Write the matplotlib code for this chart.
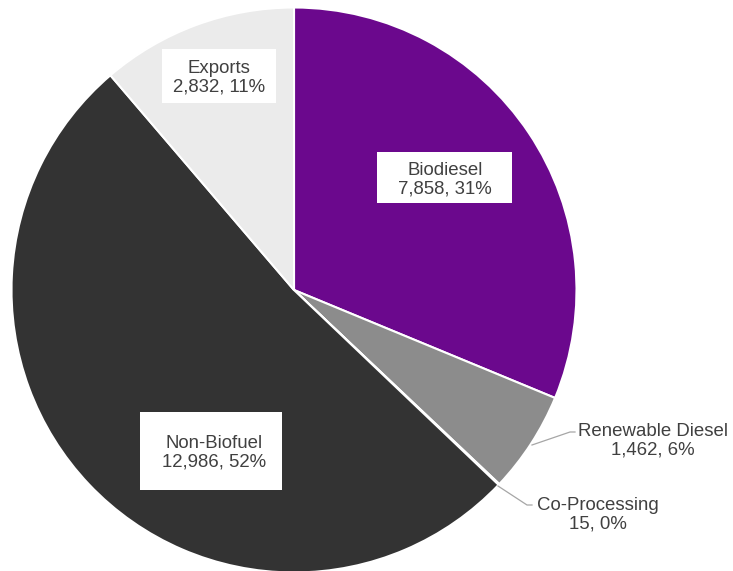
import matplotlib
matplotlib.use('Agg')
from matplotlib import pyplot as plt
from matplotlib.patches import Rectangle

# data
names = ['Biodiesel', 'Renewable Diesel', 'Co-Processing', 'Non-Biofuel', 'Exports']
values = [7858, 1462, 15, 12986, 2832]
colors = ['#6B088D', '#8C8C8C', '#D9D9D9', '#333333', '#EBEBEB']

W, H = 733, 571
plt.rcParams['font.family'] = ['Liberation Sans', 'DejaVu Sans']

fig = plt.figure(figsize=(W/100., H/100.), dpi=100)
ax = fig.add_axes([0, 0, 1, 1])
ax.pie(values, colors=colors, startangle=90, counterclock=False,
       center=(294, H-290), radius=282.5,
       wedgeprops=dict(edgecolor='white', linewidth=1.5))
ax.set_xlim(0, W)
ax.set_ylim(0, H)
ax.set_aspect('equal')
ax.axis('off')

total = sum(values)
labels = ['%s\n%s, %d%%' % (n, format(v, ','), round(100.*v/total)) for n, v in zip(names, values)]
tcol = '#404040'
fs = 13.4

# boxed labels inside the slices: (text x, text y, box x, box y, box w, box h) in pixels from top-left
boxed = {0: (445, 180, 444.5, 177.5, 135, 51),
         3: (214, 453, 211, 451, 142, 78),
         4: (219, 78, 219, 76, 114, 54)}
for i, (tx, ty, x, y, bw, bh) in boxed.items():
    ax.add_patch(Rectangle((x-bw/2., H-y-bh/2.), bw, bh, facecolor='white', edgecolor='none', zorder=3))
    ax.text(tx, H-ty, labels[i], ha='center', va='center', fontsize=fs, color=tcol,
            linespacing=1.1, zorder=4)

# outside labels with leader lines
ax.plot([532, 570, 575], [H-445, H-432, H-432], color='#A6A6A6', lw=0.9, zorder=2)
ax.text(653, H-441, labels[1], ha='center', va='center', fontsize=fs, color=tcol, linespacing=1.1)
ax.plot([498, 527, 532], [H-486, H-505, H-505], color='#A6A6A6', lw=0.9, zorder=2)
ax.text(598, H-515, labels[2], ha='center', va='center', fontsize=fs, color=tcol, linespacing=1.1)

fig.savefig('out.png', dpi=100)
